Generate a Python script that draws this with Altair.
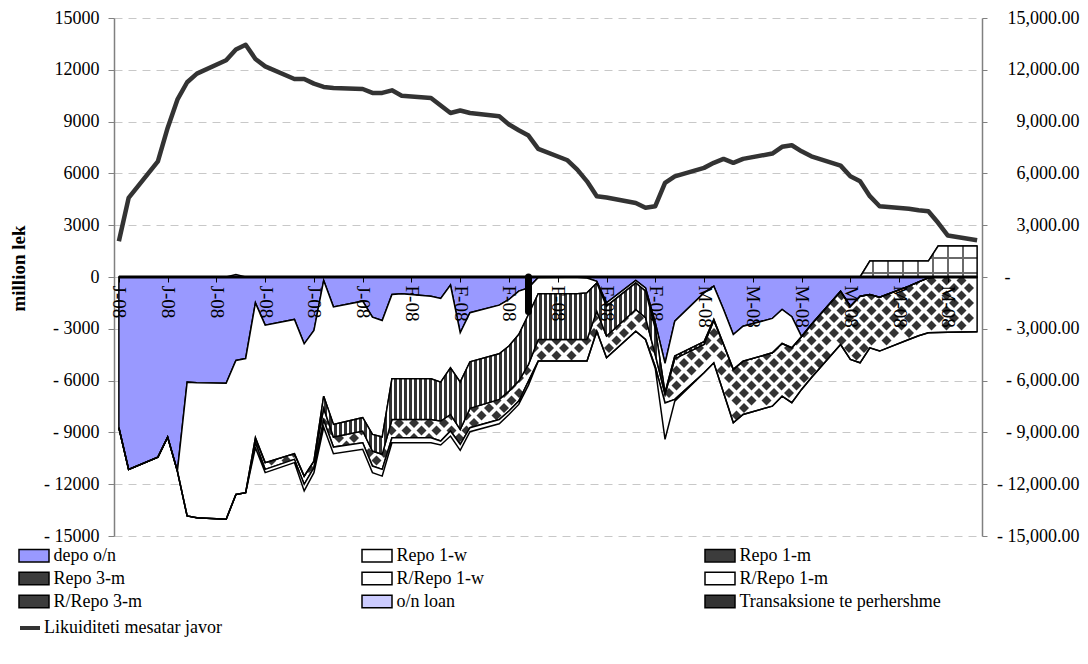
import altair as alt
import pandas as pd
import numpy as np

# ---------------- data ----------------
dates = [
    "2008-01-03", "2008-01-04", "2008-01-07", "2008-01-08", "2008-01-09", "2008-01-10", "2008-01-11",
    "2008-01-14", "2008-01-15", "2008-01-16", "2008-01-17", "2008-01-18", "2008-01-21", "2008-01-22",
    "2008-01-23", "2008-01-24", "2008-01-25", "2008-01-28", "2008-01-29", "2008-01-30", "2008-01-31",
    "2008-02-01", "2008-02-04", "2008-02-05", "2008-02-06", "2008-02-07", "2008-02-08", "2008-02-11",
    "2008-02-12", "2008-02-13", "2008-02-14", "2008-02-15", "2008-02-18", "2008-02-19", "2008-02-20",
    "2008-02-21", "2008-02-22", "2008-02-25", "2008-02-26", "2008-02-27", "2008-02-28", "2008-02-29",
    "2008-03-03", "2008-03-04", "2008-03-05", "2008-03-06", "2008-03-07", "2008-03-10", "2008-03-11",
    "2008-03-12", "2008-03-13", "2008-03-14", "2008-03-17", "2008-03-18", "2008-03-19", "2008-03-20",
    "2008-03-21", "2008-03-24", "2008-03-25", "2008-03-26", "2008-03-27", "2008-03-28", "2008-03-31",
]

depo_on = [
    -8730, -11140, -10430, -9270, -11240, -6090, -6120, -6160, -4830, -4720, -1500, -2790, -2460, -3870,
    -3100, -200, -1730, -1400, -2330, -2520, -1010,
    -970, -1110, -1240, -470, -3230, -2070, -1630, -1300, -820, -630, -30, -20, -20, -60,
    -250, -1500, -200, -630, -2650, -5000, -2560,
    -920, -530, -1880, -3330, -2850, -2400, -1880, -2300, -3450, -2750, -820, -1690, -1110, -1010,
    -1170, -530, -280, -50, 0, 0, 0,
]
repo_1w = [
    0, 0, 0, 0, 0, -7750, -7820, -7870, -7760, -7770, -7810, -7960, -7770, -7660,
    -7560, -6700, -6810, -6750, -6790, -6750, -4880,
    -4920, -4780, -4850, -4790, -2860, -2840, -2820, -2700, -2510, -1540, -940, -950, -950, -860,
    -100, -190, -140, -190, -350, -1700, -2020,
    -2830, -1930, -2020, -2020, -2020, -1990, -1970, -1800, 0, 0, 0, 0, 0, 0,
    0, 0, 0, 0, 0, 0, 0,
]
repo_1m = [
    0, 0, 0, 0, 0, 0, 0, 0, 0, 0, 0, 0, 0, 0,
    0, -700, -730, -770, -960, -1000, -2360,
    -2360, -2360, -2250, -2700, -2740, -2700, -2640, -2610, -2700, -2890, -2650, -2650, -2650, -2700,
    -1630, -1730, -1540, -1540, -1500, -100, -150,
    -150, -60, 0, 0, 0, 0, 0, 0, 0, 0, 0, 0, 0, 0,
    0, 0, 0, 0, 0, 0, 0,
]
repo_3m = [
    0, 0, 0, 0, 0, 0, 0, 0, 0, 0, -290, -390, -330, -480,
    -380, -700, -580, -680, -870, -870, -1060,
    -1060, -1060, -1160, -960, -860, -1120, -1160, -1150, -1160, -970, -1250, -1250, -1250, -1250,
    -1160, -1260, -1260, -1260, -700, -500, -2360,
    -1650, -2450, -2800, -3090, -3090, -3090, -3050, -3180, -3060, -3090, -3090, -3080, -3860, -3090,
    -3120, -3090, -3120, -3180, -3210, -3200, -3170,
]
rrepo_1m = [
    0, 0, 0, 0, 0, 0, 0, 0, 0, 0, -290, -190, -190, -380,
    -290, -400, -380, -380, -380, -390, -290,
    -290, -290, -230, -290, -350, -230, -250, -200, -190, -230, 0, 0, 0, 0,
    0, 0, 0, 0, -100, -2100, -100,
    0, 0, 0, 0, 0, 0, 0, 0, 0, 0, 0, 0, 0, 0,
    0, 0, 0, 0, 0, 0, 0,
]
# sparse series (date -> value)
rrepo_1w = {"2008-03-20": 920, "2008-03-21": 920, "2008-03-24": 920, "2008-03-25": 920,
            "2008-03-26": 920, "2008-03-27": 1790, "2008-03-28": 1790, "2008-03-31": 1790}
on_loan = {"2008-01-15": 150}
transaksione = {"2008-02-14": -2000}

likuiditeti = [
    2070, 4580, 6700, 8630, 10270, 11280, 11780, 12550, 13170, 13450, 12630, 12200, 11470, 11470,
    11200, 11010, 10950, 10890, 10660, 10660, 10810,
    10500, 10370, 9930, 9500, 9640, 9500, 9310, 8830, 8500, 8190, 7420, 6760, 6220, 5540,
    4680, 4600, 4290, 4010, 4100, 5450, 5830,
    6320, 6610, 6840, 6610, 6840, 7150, 7540, 7630, 7280, 6990, 6450, 5830, 5540, 4680,
    4100, 3950, 3870, 3810, 3140, 2400, 2130,
]

legend_names = ["depo o/n", "Repo 1-w", "Repo 1-m", "Repo 3-m", "R/Repo 1-w",
                "R/Repo 1-m", "R/Repo 3-m", "o/n loan", "Transaksione te perhershme"]
legend_colors = ["#9999FF", "#FFFFFF", "#3c3c3c", "#3c3c3c", "#FFFFFF",
                 "#FFFFFF", "#3c3c3c", "#CCCCFF", "#333333"]
line_name = "Likuiditeti mesatar javor"

# ---------------- layout / style constants ----------------
FONT = "Liberation Serif"
W, H = 868, 518
X_DOM = [-0.5, 88.5]
Y_DOM = [-15000, 15000]

# ---------------- derived tables ----------------
day = (pd.to_datetime(dates) - pd.Timestamp("2008-01-03")).days.values.astype(float)
n = len(dates)


def sparse(dct):
    return np.array([dct.get(s, 0) for s in dates], dtype=float)


rr1w = sparse(rrepo_1w)
onl = sparse(on_loan)
trn = sparse(transaksione)

bounds = {}
cum = np.zeros(n)
for name, vals in zip(["depo o/n", "Repo 1-w", "Repo 1-m", "Repo 3-m", "R/Repo 1-m"],
                      [depo_on, repo_1w, repo_1m, repo_3m, rrepo_1m]):
    v = np.array(vals, dtype=float)
    bounds[name] = (cum + v, cum.copy())
    cum = cum + v
bounds["R/Repo 1-w"] = (np.zeros(n), rr1w)
bounds["o/n loan"] = (rr1w, rr1w + onl)


def series_df(names):
    parts = []
    for nm in names:
        lo, hi = bounds[nm]
        parts.append(pd.DataFrame({"d": day, "series": nm, "lo": lo, "hi": hi}))
    return pd.concat(parts, ignore_index=True)


main = pd.DataFrame({"d": day, "zero": 0.0, "liq": likuiditeti, "name": line_name, "trn": trn})

# diamond pattern for Repo 3-m (lattice in pixel space, converted back to data units)
px_day = W / (X_DOM[1] - X_DOM[0])
u_px = (Y_DOM[1] - Y_DOM[0]) / H


def py(v):
    return (Y_DOM[1] - v) / u_px


B4, B3 = bounds["Repo 3-m"]
B5 = bounds["R/Repo 1-m"][0]
r = 5.0
rd = r / px_day
pts = []
j = 0
yy = 0.0
while yy <= H:
    xx = 7.5 if j % 2 else 0.0
    while xx <= W:
        dd = xx / px_day + X_DOM[0]
        if day[0] <= dd <= day[-1]:
            top = py(np.interp(dd, day, B3))
            bot = py(np.interp(dd, day, B4))
            b5 = [py(np.interp(q, day, B5)) for q in (dd - rd, dd, dd + rd)]
            cov = min(np.interp(q, day, rr1w) for q in (dd - rd, dd, dd + rd))
            ok = (yy + r > top + 0.5 and yy - r < bot - 0.5
                  and yy + r <= b5[1] + 1 and yy <= b5[0] + 1 and yy <= b5[2] + 1
                  and yy - r >= py(cov) - 0.5
                  and (xx + r) / px_day + X_DOM[0] <= day[-1] + 0.05)
            if ok:
                pts.append((dd, Y_DOM[1] - yy * u_px))
        xx += 15.0
    yy += 7.5
    j += 1
pts_df = pd.DataFrame(pts, columns=["d", "v"])

# gradients (vertical stripes for Repo 1-m, grid for R/Repo 1-w)
bbox_w = (day[-1] - day[0]) * px_day


def stripe_stops(length, period, width, ink, paper, start=0.0):
    stops = [{"offset": 0, "color": paper}]
    x = start
    while x < length:
        a, b = max(x, 0) / length, min(x + width, length) / length
        if a < 1:
            stops += [{"offset": a, "color": paper}, {"offset": a, "color": ink},
                      {"offset": b, "color": ink}, {"offset": b, "color": paper}]
        x += period
    stops.append({"offset": 1, "color": paper})
    return stops


stripes_fill = {"gradient": "linear", "x1": 0, "x2": 1, "y1": 0, "y2": 0,
                "stops": stripe_stops(bbox_w, 5.0, 2.8, "#333333", "#ffffff")}
grid_v_fill = {"gradient": "linear", "x1": 0, "x2": 1, "y1": 0, "y2": 0,
               "stops": stripe_stops(bbox_w, 15.0, 2.0, "#6a6a6a", "#ffffff", start=3.0)}
gh = rr1w.max() / u_px
k_pos = []
p = 4.0
while p < gh:
    k_pos.append(gh - p)
    p += 15.0
k_pos.sort()
grid_h_stops = [{"offset": 0, "color": "rgba(0,0,0,0)"}]
for c in k_pos:
    a, b = max(c - 1, 0) / gh, min(c + 1, gh) / gh
    grid_h_stops += [{"offset": a, "color": "rgba(0,0,0,0)"}, {"offset": a, "color": "#6a6a6a"},
                     {"offset": b, "color": "#6a6a6a"}, {"offset": b, "color": "rgba(0,0,0,0)"}]
grid_h_stops.append({"offset": 1, "color": "rgba(0,0,0,0)"})
grid_h_fill = {"gradient": "linear", "x1": 0, "x2": 0, "y1": 0, "y2": 1, "stops": grid_h_stops}

# ---------------- scales / axes ----------------
xs = alt.Scale(domain=X_DOM, nice=False, zero=False)
ys = alt.Scale(domain=Y_DOM, nice=False, zero=False)

x_axis = alt.Axis(
    orient="bottom", offset=-H / 2, values=list(range(0, 89, 5)),
    labelExpr="datum.value < 29 ? 'J-08' : (datum.value < 58 ? 'F-08' : 'M-08')",
    labelAngle=90, labelAlign="left", labelBaseline="middle", labelPadding=3,
    labelFont=FONT, labelFontSize=19, labelColor="black", labelFlush=False, labelOverlap=False,
    tickColor="black", tickSize=5, tickWidth=1, domain=False, grid=False, title=None, zindex=1,
)
y_axis = alt.Axis(
    orient="left", values=list(range(-15000, 15001, 3000)),
    labelExpr="datum.value < 0 ? '- ' + format(-datum.value, 'd') : format(datum.value, 'd')",
    labelFont=FONT, labelFontSize=18, labelColor="black", labelPadding=9, labelFlush=False,
    labelOverlap=False, tickSize=6, tickColor="#808080", domainColor="#808080", domainWidth=1.5,
    grid=True, gridColor="#c8c8c8", gridDash=[8, 6], gridWidth=1, zindex=0,
    title="million lek", titleFont=FONT, titleFontSize=19, titleFontWeight="bold", titleColor="black",
    titleAngle=270, titleX=-96, titleY=250, titleAlign="center", titleBaseline="middle",
)
y2_axis = alt.Axis(
    orient="right", values=list(range(-15000, 15001, 3000)),
    labelExpr="datum.value == 0 ? '-' : (datum.value < 0 ? '- ' : '') + format(abs(datum.value), ',.2f')",
    labelFont=FONT, labelFontSize=18, labelColor="black", labelAlign="right",
    labelPadding={"condition": {"test": "datum.value == 0", "value": 23}, "value": 92},
    labelFlush=False, labelOverlap=False, tickSize=5, tickColor="#808080", domainColor="#808080",
    domainWidth=1.5, grid=False, title=None, zindex=0,
)


def X():
    return alt.X("d:Q", scale=xs, axis=x_axis)


def Y(f):
    return alt.Y(f, scale=ys, axis=y_axis)


# ---------------- layers ----------------
dia_white = alt.Chart(series_df(["Repo 3-m"])).mark_area(
    fill="white", stroke="black", strokeWidth=1.5, opacity=1
).encode(x=X(), y=Y("hi:Q"), y2="lo:Q")

dia_pts = alt.Chart(pts_df).mark_point(
    shape="diamond", filled=True, size=(2 * r) ** 2, color="#333333", opacity=1, strokeWidth=0
).encode(x=X(), y=Y("v:Q"))

base = alt.Chart(series_df(["depo o/n", "Repo 1-w", "R/Repo 1-m", "o/n loan"])).mark_area(
    stroke="black", strokeWidth=1.5, opacity=1
).encode(
    x=X(), y=Y("hi:Q"), y2="lo:Q",
    fill=alt.Fill("series:N", scale=alt.Scale(domain=legend_names, range=legend_colors),
                  legend=alt.Legend(
                      orient="none", legendX=-93.5, legendY=524, title=None, columns=3,
                      direction="horizontal", gridAlign="all", columnPadding=103, rowPadding=0,
                      padding=0, symbolType="M-1.2,-0.5L1.2,-0.5L1.2,0.5L-1.2,0.5Z", symbolSize=625,
                      symbolStrokeColor="black", symbolStrokeWidth=1.5, symbolOpacity=1,
                      labelFont=FONT, labelFontSize=18, labelColor="black", labelOffset=6,
                      labelLimit=400)),
    detail="series:N",
)

stripes = alt.Chart(series_df(["Repo 1-m"])).mark_area(
    fill=stripes_fill, stroke="black", strokeWidth=1.5, opacity=1
).encode(x=X(), y=Y("hi:Q"), y2="lo:Q")

grid_v = alt.Chart(series_df(["R/Repo 1-w"])).mark_area(
    fill=grid_v_fill, opacity=1
).encode(x=X(), y=Y("hi:Q"), y2="lo:Q")

grid_h = alt.Chart(series_df(["R/Repo 1-w"])).mark_area(
    fill=grid_h_fill, stroke="black", strokeWidth=1.5, opacity=1
).encode(x=X(), y=Y("hi:Q"), y2="lo:Q")

zero_line = alt.Chart(main).mark_line(color="black", strokeWidth=3).encode(x=X(), y=Y("zero:Q"))

trn_rule = alt.Chart(main).transform_filter("datum.trn != 0").mark_rule(
    color="black", strokeWidth=7, strokeCap="round"
).encode(x=X(), y=Y("zero:Q"), y2="trn:Q")

inner = alt.layer(dia_white, dia_pts, base, stripes, grid_v, grid_h, zero_line, trn_rule)

liq = alt.Chart(main).mark_line(strokeWidth=4.5, strokeJoin="round").encode(
    x=X(),
    y=alt.Y("liq:Q", scale=alt.Scale(domain=Y_DOM, nice=False, zero=False), axis=y2_axis),
    stroke=alt.Stroke("name:N", scale=alt.Scale(domain=[line_name], range=["#333333"]),
                      legend=alt.Legend(orient="none", legendX=-96, legendY=598, title=None,
                                        symbolType="stroke", symbolSize=400, symbolStrokeWidth=4,
                                        labelFont=FONT, labelFontSize=18, labelColor="black",
                                        labelOffset=2, labelLimit=400, padding=0)),
)

chart = alt.layer(inner, liq).resolve_scale(y="independent").properties(
    width=W, height=H,
    autosize=alt.AutoSizeParams(type="none"),
    padding={"left": 106, "top": 10, "right": 98, "bottom": 110},
    background="white",
).configure_view(stroke=None)

chart.save("out.html", embed_options={"renderer": "svg", "actions": False})
